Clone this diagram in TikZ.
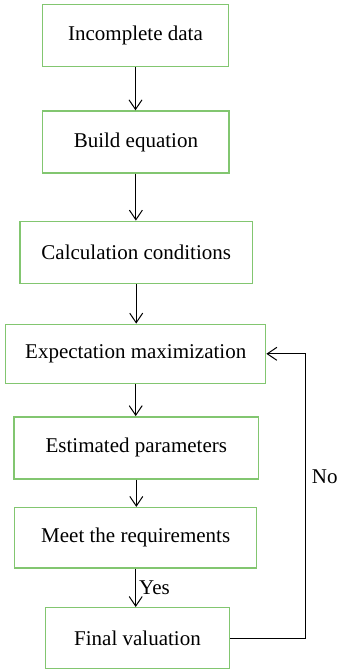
\documentclass[tikz,border=0pt]{standalone}
\usepackage{fontspec}
\setmainfont{Liberation Serif}
\usetikzlibrary{arrows.meta}
\definecolor{boxgreen}{RGB}{130,198,112}
\newcommand{\boxfont}{\fontsize{10.5pt}{12pt}\selectfont}

\begin{document}
\begin{tikzpicture}[x=0.5pt,y=-0.5pt,
  box/.style={draw=boxgreen,line width=0.7pt,minimum height=31pt,inner sep=0pt,font=\boxfont},
  flow/.style={-{Straight Barb[length=4.8pt,width=6.5pt]},line width=0.5pt}]
\useasboundingbox (0,0) rectangle (337,671);
%draw the boxes from top to bottom
\node[box,minimum width=92.8pt] (data) at (135.5,35.3) {Incomplete data};
\node[box,minimum width=93.2pt] (equation) at (135.9,142) {Build equation};
\node[box,minimum width=116.2pt] (conditions) at (136.2,252.3) {Calculation conditions};
\node[box,minimum width=130pt,minimum height=29.5pt] (em) at (135.7,353.8) {Expectation maximization};
\node[box,minimum width=122.4pt] (estimated) at (136.3,447.8) {Estimated parameters};
\node[box,minimum width=121pt,minimum height=30.2pt] (meet) at (135.7,537.8) {Meet the requirements};
\node[box,minimum width=91.8pt,minimum height=30.5pt] (final) at (137.5,638.2) {Final valuation};
%draw arrows between the boxes
\draw[flow] (data.south) -- (data.south |- equation.north);
\draw[flow] (equation.south) -- (equation.south |- conditions.north);
\draw[flow] (conditions.south) -- (conditions.south |- em.north);
\draw[flow] (em.south) -- (em.south |- estimated.north);
\draw[flow] (estimated.south) -- (estimated.south |- meet.north);
\draw[flow] (meet.south) -- (meet.south |- final.north)
  node[midway,right,inner sep=1.5pt,font=\boxfont] (yes) {Yes};
% feedback loop back to the expectation step
\coordinate (turn) at (305.7,638.2);
\draw[flow] (final.east) -- (turn) |- (em.east);
\node[anchor=west,inner sep=0pt,font=\boxfont] (no) at (311.5,476.7) {No};
\end{tikzpicture}
\end{document}
